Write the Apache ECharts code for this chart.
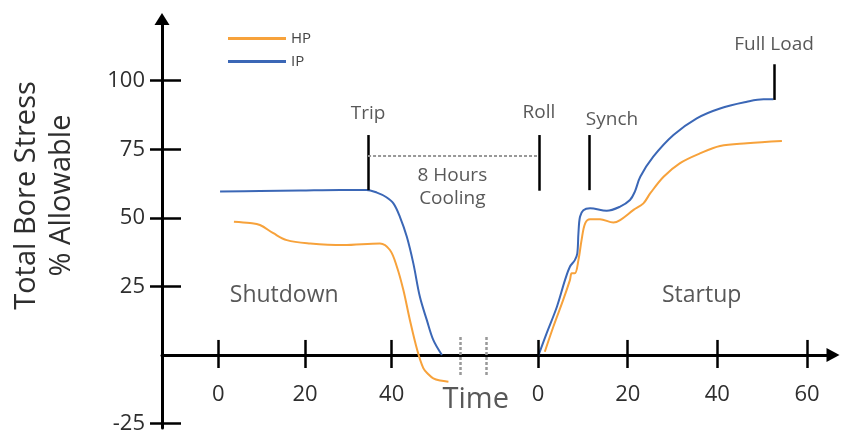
<!DOCTYPE html>
<html><head><meta charset="utf-8">
<script src="https://cdn.jsdelivr.net/npm/echarts@6/dist/echarts.min.js"></script>
<style>html,body{margin:0;padding:0;background:#fff}#c{width:846px;height:433px}</style>
</head><body><div id="c"></div>
<script>
// ---- data ----
const seriesNames = ['HP', 'IP'];
const shutdownHP = [[3.6,48.6],[7.3,48.1],[9.6,47.4],[12.7,44.4],[15.8,41.9],[21.2,40.7],[28.8,40.1],[37.3,40.7],[39.6,38.3],[41.2,32.2],[42.7,23.7],[44.2,12.8],[45.9,1.8],[47.3,-4.8],[48.4,-6.9],[49.6,-8.5],[51.2,-9.3],[53.1,-9.7]];
const shutdownIP = [[0.4,59.6],[9.6,59.8],[18.9,60.0],[28.1,60.2],[34.2,60.2],[36.6,59.2],[38.7,57.6],[40.4,55.3],[41.9,50.4],[43.5,43.1],[45.0,33.4],[46.5,21.3],[48.1,12.8],[49.6,5.5],[51.6,0]];
const startupHP = [[1.5,1.2],[3.4,10.3],[5.6,20.1],[7.1,27.3],[7.5,29.8],[8.2,29.8],[9.0,34.6],[9.7,41.9],[10.5,48.0],[11.6,49.5],[13.8,49.5],[16.8,48.3],[18.3,49.2],[21.3,52.9],[23.5,55.3],[25.0,58.9],[28.0,65.0],[31.6,69.9],[36.1,73.5],[40.6,76.2],[46.6,77.2],[54.4,78.0]];
const startupIP = [[0.1,0],[1.9,7.9],[4.2,17.6],[6.0,27.3],[7.1,32.2],[8.2,34.6],[8.75,37.1],[9.0,44.4],[9.35,50.4],[10.1,52.8],[11.6,53.5],[15.3,52.6],[18.3,54.1],[20.5,56.5],[21.6,59.6],[22.8,65.0],[25.7,72.3],[30.2,80.2],[35.4,86.3],[40.6,89.9],[46.6,92.3],[50.3,93.2],[52.5,93.2]];
const yTicks = [-25, 25, 50, 75, 100];
const shutdownTicks = [0, 20, 40];
const startupTicks = [0, 20, 40, 60];
const eventNames = ['Trip', 'Roll', 'Synch', 'Full Load'];
const eventPhase = [0, 1, 1, 1];
const eventTime = [34.55, 0.2, 11.4, 52.65];
const eventLow = [60.1, 59.9, 60.1, 93.0];
const eventHigh = [80.2, 80.2, 80.2, 106.0];
const eventLabelTime = [34.55, 0.2, 16.5, 52.65];
const eventLabelLevel = [87.9, 88.2, 85.7, 113.0];
const coolingText = '8 Hours\nCooling';
const coolingLevel = 72.7;
const coolingLabelPos = [54.0, 61.4];
const phaseNames = ['Shutdown', 'Startup'];
const phaseLabelPos = [[15.2, 21.9], [36.5, 21.9]];
const axisTitle = 'Time';
const axisTitlePos = [-13.9, -16.4];
const breakTime = [55.8, -11.5];
const breakHalf = 7.3;

// ---- chart ----
const FONT = "'Open Sans', sans-serif";
const ORANGE = '#F7A23B', BLUE = '#3B67B6', TXT = '#2e2e2e';
const X0 = {min: -13, max: 59}, X1 = {min: -14.3, max: 65.8}, Y = {min: -26.6, max: 122.5};
const GRID_TOP = 19, GRID_H = 409;
const tickStyle = {color: '#000', width: 2.5};
const upTick = 5.5; // upper half of the crossing x ticks, in y units
// ECharts 6.0 keeps x labels at the grid bottom even when the axis line sits on zero,
// so the label margin is measured from there.
const zeroPx = GRID_TOP + GRID_H * Y.max / (Y.max - Y.min);
const xLabelMargin = 29 - (GRID_TOP + GRID_H - zeroPx);

function xAxis(grid, range, ticks, withArrow) {
  return {
    gridIndex: grid, type: 'value', position: 'bottom', min: range.min, max: range.max,
    axisLine: {onZero: true, lineStyle: {color: '#000', width: 3},
      symbol: withArrow ? ['none', 'triangle'] : 'none', symbolSize: [14, 13]},
    axisTick: {customValues: ticks, length: 13, lineStyle: tickStyle},
    axisLabel: {show: true, customValues: ticks, margin: xLabelMargin, fontSize: 22, color: TXT, fontFamily: FONT},
    splitLine: {show: false}
  };
}

const ya = [
  {gridIndex: 0, type: 'value', min: Y.min, max: Y.max, position: 'left',
   axisLine: {onZero: false, symbol: ['none', 'triangle'], symbolSize: [15, 12], lineStyle: {color: '#000', width: 3}},
   axisTick: {customValues: yTicks, length: 12, lineStyle: tickStyle},
   axisLabel: {customValues: yTicks, margin: 17, fontSize: 22, color: TXT, fontFamily: FONT},
   splitLine: {show: false},
   name: 'Total Bore Stress\n% Allowable', nameLocation: 'middle', nameRotate: 90, nameGap: 83, nameMoveOverlap: false,
   nameTextStyle: {fontSize: 29, lineHeight: 35, color: TXT, fontFamily: FONT, padding: [0, 0, 0, 56]}},
  {gridIndex: 0, type: 'value', min: Y.min, max: Y.max, position: 'left',
   axisLine: {show: false, onZero: false},
   axisTick: {inside: true, customValues: yTicks, length: 19, lineStyle: tickStyle},
   axisLabel: {show: false}, splitLine: {show: false}},
  {gridIndex: 1, type: 'value', min: Y.min, max: Y.max, position: 'left', show: false}
];

function curve(name, data, xi, yi, color) {
  return {type: 'line', name, data, xAxisIndex: xi, yAxisIndex: yi, smooth: 0.35,
    showSymbol: false, symbol: 'none', color, lineStyle: {color, width: 2}, itemStyle: {color}, z: 3};
}
const blackLine = {color: '#000', width: 2.5, type: 'solid'};
const dashLine = {color: '#999', width: 2, type: [3, 2]};

function annotations(phase, xi, yi, xmin, xmax, ticks) {
  const labels = [], lines = [];
  eventNames.forEach((n, i) => {
    if (eventPhase[i] !== phase) return;
    labels.push({name: n, value: [eventLabelTime[i], eventLabelLevel[i]]});
    lines.push([{coord: [eventTime[i], eventLow[i]], lineStyle: blackLine}, {coord: [eventTime[i], eventHigh[i]]}]);
  });
  labels.push({name: phaseNames[phase], value: phaseLabelPos[phase], label: {fontSize: 23}});
  if (phase === 0) {
    labels.push({name: coolingText, value: coolingLabelPos});
    lines.push([{coord: [eventTime[0], coolingLevel], lineStyle: dashLine}, {coord: [xmax, coolingLevel]}]);
  } else {
    labels.push({name: axisTitle, value: axisTitlePos, label: {fontSize: 29}});
    lines.push([{coord: [xmin, coolingLevel], lineStyle: dashLine}, {coord: [eventTime[1], coolingLevel]}]);
  }
  lines.push([{coord: [breakTime[phase], -breakHalf], lineStyle: {color: '#999', width: 2.5, type: [3, 2]}}, {coord: [breakTime[phase], breakHalf]}]);
  ticks.forEach(t => lines.push([{coord: [t, 0], lineStyle: tickStyle}, {coord: [t, upTick]}]));
  return {
    type: 'scatter', xAxisIndex: xi, yAxisIndex: yi, data: labels, symbolSize: 0, silent: true, clip: false,
    label: {show: true, position: 'inside', formatter: '{b}', fontSize: 19, lineHeight: 23, color: TXT, fontFamily: FONT},
    markLine: {silent: true, symbol: ['none', 'none'], label: {show: false}, lineStyle: blackLine, data: lines, animation: false}
  };
}

const option = {
  backgroundColor: '#fff',
  animation: false,
  textStyle: {fontFamily: FONT},
  grid: [
    {left: 162, top: GRID_TOP, width: 312, height: GRID_H, outerBoundsMode: 'none'},
    {left: 474, top: GRID_TOP, width: 359, height: GRID_H, outerBoundsMode: 'none'}
  ],
  legend: {data: seriesNames, orient: 'vertical', left: 223, top: 26, icon: 'rect', itemWidth: 58, itemHeight: 3,
    itemGap: 8, selectedMode: false, textStyle: {fontSize: 15, lineHeight: 14, color: '#444', fontFamily: FONT}},
  xAxis: [xAxis(0, X0, shutdownTicks, false), xAxis(1, X1, startupTicks, true)],
  yAxis: ya,
  series: [
    curve(seriesNames[0], shutdownHP, 0, 0, ORANGE),
    curve(seriesNames[1], shutdownIP, 0, 0, BLUE),
    curve(seriesNames[0], startupHP, 1, 2, ORANGE),
    curve(seriesNames[1], startupIP, 1, 2, BLUE),
    annotations(0, 0, 0, X0.min, X0.max, shutdownTicks),
    annotations(1, 1, 2, X1.min, X1.max, startupTicks)
  ]
};
const chart = echarts.init(document.getElementById('c'), null, {renderer: 'canvas'});
chart.setOption(option);
</script></body></html>
